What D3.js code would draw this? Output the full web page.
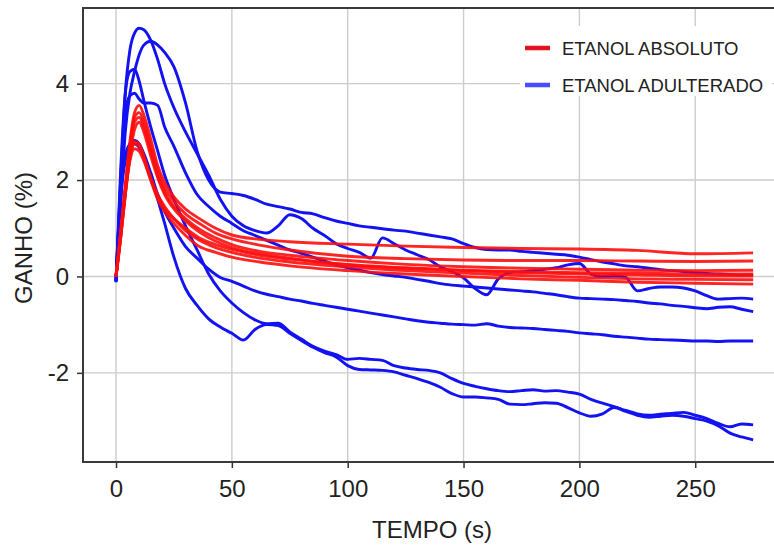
<!DOCTYPE html>
<html>
<head>
<meta charset="utf-8">
<script src="https://cdn.jsdelivr.net/npm/d3@7"></script>
<style>
  body { margin: 0; background: #fff; }
  text { font-family: "Liberation Sans", Arial, sans-serif; fill: #222; }
</style>
</head>
<body>
<script>
let width = 774, height = 546;

// time samples (s)
let tBlue = [0, 2, 4, 6, 8, 10, 12, 15, 18, 21, 25, 30, 35, 40, 45, 50, 55, 60, 65, 70,
  75, 80, 85, 90, 95, 100, 105, 110, 115, 120, 125, 130, 135, 140, 145, 150, 155, 160, 165, 170,
  175, 180, 185, 190, 195, 200, 205, 210, 215, 220, 225, 230, 235, 240, 245, 250, 255, 260, 265, 270, 275];
let tRed = [0, 2, 4, 6, 8, 10, 12, 15, 18, 21, 25, 30, 36, 43, 50, 62, 75, 100, 125, 150, 175, 200, 225, 250, 275];

// ETANOL ADULTERADO (%)
let blue1 = [-0.1, 2.0, 3.8, 4.7, 5.05, 5.15, 5.12, 4.9, 4.5, 4.0, 3.5, 3.0, 2.55, 2.1, 1.6, 1.25, 1.05, 0.95, 0.9, 1.05,
  1.28, 1.2, 1.0, 0.85, 0.68, 0.58, 0.5, 0.38, 0.8, 0.68, 0.55, 0.45, 0.35, 0.2, 0.1, -0.03, -0.25, -0.38, -0.05, 0.08,
  0.1, 0.12, 0.15, 0.18, 0.24, 0.27, 0.05, 0.0, 0.02, -0.02, -0.3, -0.25, -0.22, -0.22, -0.24, -0.3, -0.4, -0.47, -0.46, -0.45, -0.47];
let blue2 = [-0.05, 1.5, 3.0, 3.8, 4.25, 4.6, 4.8, 4.88, 4.8, 4.65, 4.35, 3.6, 2.6, 2.0, 1.75, 1.72, 1.68, 1.6, 1.5, 1.45,
  1.4, 1.33, 1.3, 1.22, 1.15, 1.1, 1.05, 1.02, 0.99, 0.96, 0.94, 0.9, 0.86, 0.82, 0.78, 0.68, 0.6, 0.56, 0.55, 0.55,
  0.52, 0.5, 0.48, 0.46, 0.44, 0.4, 0.35, 0.3, 0.26, 0.22, 0.2, 0.17, 0.14, 0.12, 0.1, 0.08, 0.06, 0.05, 0.04, 0.03, 0.03];
let blue3 = [-0.1, 1.9, 3.4, 3.75, 3.8, 3.68, 3.6, 3.6, 3.55, 3.1, 2.7, 2.15, 1.7, 1.45, 1.25, 1.1, 0.95, 0.85, 0.75, 0.65,
  0.55, 0.48, 0.4, 0.32, 0.24, 0.18, 0.13, 0.08, 0.04, 0.01, -0.02, -0.06, -0.1, -0.15, -0.18, -0.2, -0.22, -0.24, -0.26, -0.28,
  -0.3, -0.32, -0.35, -0.38, -0.42, -0.45, -0.46, -0.47, -0.48, -0.5, -0.52, -0.55, -0.57, -0.6, -0.62, -0.65, -0.67, -0.64, -0.63, -0.68, -0.73];
let blue4 = [-0.1, 1.7, 2.5, 2.75, 2.82, 2.75, 2.55, 2.15, 1.7, 1.35, 1.0, 0.62, 0.38, 0.15, -0.02, -0.1, -0.2, -0.3, -0.37, -0.42,
  -0.47, -0.51, -0.56, -0.6, -0.64, -0.68, -0.72, -0.76, -0.8, -0.84, -0.88, -0.92, -0.95, -0.97, -0.99, -1.0, -1.01, -0.98, -1.03, -1.06,
  -1.07, -1.08, -1.1, -1.12, -1.14, -1.17, -1.19, -1.21, -1.24, -1.26, -1.28, -1.3, -1.31, -1.32, -1.33, -1.34, -1.34, -1.35, -1.34, -1.34, -1.34];
let blue5 = [-0.1, 2.2, 3.8, 4.25, 4.3, 4.05, 3.65, 3.1, 2.6, 2.1, 1.6, 1.05, 0.55, 0.05, -0.3, -0.55, -0.75, -0.9, -0.98, -0.97,
  -1.15, -1.3, -1.45, -1.55, -1.62, -1.72, -1.7, -1.72, -1.74, -1.85, -1.9, -1.93, -1.95, -2.0, -2.12, -2.22, -2.28, -2.33, -2.37, -2.39,
  -2.37, -2.35, -2.38, -2.37, -2.4, -2.44, -2.55, -2.63, -2.7, -2.78, -2.85, -2.88, -2.86, -2.84, -2.82, -2.88, -2.95, -3.05, -3.12, -3.06, -3.08];
let blue6 = [-0.12, 1.6, 2.4, 2.65, 2.75, 2.68, 2.5, 2.1, 1.6, 1.1, 0.4, -0.25, -0.6, -0.88, -1.05, -1.18, -1.32, -1.1, -1.0, -1.02,
  -1.18, -1.33, -1.47, -1.58, -1.67, -1.85, -1.93, -1.94, -1.95, -1.98, -2.05, -2.12, -2.2, -2.3, -2.43, -2.5, -2.5, -2.52, -2.55, -2.65,
  -2.66, -2.64, -2.62, -2.63, -2.72, -2.83, -2.9, -2.85, -2.72, -2.8, -2.88, -2.92, -2.9, -2.88, -2.9, -2.95, -3.0, -3.1, -3.25, -3.33, -3.39];

// ETANOL ABSOLUTO (%)
let red1 = [0, 0.9, 1.9, 2.8, 3.4, 3.55, 3.35, 2.85, 2.3, 1.95, 1.65, 1.4, 1.2, 1.0, 0.86, 0.77, 0.72, 0.67, 0.63, 0.6, 0.58, 0.57, 0.54, 0.47, 0.49];
let red2 = [0, 0.8, 1.8, 2.7, 3.3, 3.4, 3.2, 2.7, 2.2, 1.85, 1.55, 1.3, 1.1, 0.9, 0.78, 0.65, 0.55, 0.42, 0.37, 0.34, 0.33, 0.33, 0.32, 0.31, 0.32];
let red3 = [0, 0.8, 1.7, 2.6, 3.2, 3.3, 3.1, 2.6, 2.1, 1.75, 1.45, 1.2, 0.98, 0.8, 0.66, 0.52, 0.44, 0.33, 0.25, 0.2, 0.17, 0.15, 0.13, 0.12, 0.13];
let red4 = [0, 0.8, 1.7, 2.5, 3.05, 3.2, 3.0, 2.5, 2.05, 1.7, 1.4, 1.15, 0.92, 0.73, 0.6, 0.47, 0.38, 0.24, 0.17, 0.12, 0.08, 0.05, 0.03, 0.01, 0.01];
let red5 = [0, 0.9, 1.8, 2.5, 2.8, 2.75, 2.5, 2.05, 1.7, 1.45, 1.2, 0.95, 0.75, 0.6, 0.5, 0.38, 0.3, 0.2, 0.12, 0.07, 0.02, -0.02, -0.05, -0.06, -0.07];
let red6 = [0, 0.9, 1.75, 2.45, 2.75, 2.7, 2.45, 2.0, 1.6, 1.35, 1.1, 0.85, 0.62, 0.5, 0.4, 0.3, 0.22, 0.12, 0.05, 0.0, -0.05, -0.08, -0.12, -0.14, -0.16];
let red7 = [0, 0.85, 1.7, 2.4, 2.65, 2.6, 2.4, 2.0, 1.65, 1.4, 1.2, 1.0, 0.8, 0.66, 0.56, 0.44, 0.36, 0.25, 0.18, 0.13, 0.1, 0.08, 0.07, 0.05, 0.05];

let blueSeries = [blue1, blue2, blue3, blue4, blue5, blue6];
let redSeries = [red1, red2, red3, red4, red5, red6, red7];

let xTicks = [0, 50, 100, 150, 200, 250];
let yTicks = [-2, 0, 2, 4];
let legendLabels = ['ETANOL ABSOLUTO', 'ETANOL ADULTERADO'];

let margin = {left: 83, right: 0, top: 8, bottom: 84};

let x = d3.scaleLinear().domain([-14.25, 284]).range([margin.left, width - margin.right]);
let y = d3.scaleLinear().domain([-3.85, 5.57]).range([height - margin.bottom, margin.top]);

let svg = d3.select('body').append('svg')
    .attr('width', width)
    .attr('height', height);

// grid
svg.append('g').selectAll('line.gx').data(xTicks).enter().append('line')
    .attr('x1', d => x(d)).attr('x2', d => x(d))
    .attr('y1', y.range()[0]).attr('y2', y.range()[1])
    .attr('stroke', '#cccccc').attr('stroke-width', 1.4);
svg.append('g').selectAll('line.gy').data(yTicks).enter().append('line')
    .attr('y1', d => y(d)).attr('y2', d => y(d))
    .attr('x1', x.range()[0]).attr('x2', x.range()[1])
    .attr('stroke', '#cccccc').attr('stroke-width', 1.4);

let line = d3.line().curve(d3.curveMonotoneX);

svg.append('g').selectAll('path').data(blueSeries).enter().append('path')
    .attr('d', s => line(s.map((v, i) => [x(tBlue[i]), y(v)])))
    .attr('fill', 'none')
    .attr('stroke', '#1212f2')
    .attr('stroke-width', 2.9)
    .attr('stroke-linejoin', 'round');

svg.append('g').selectAll('path').data(redSeries).enter().append('path')
    .attr('d', s => line(s.map((v, i) => [x(tRed[i]), y(v)])))
    .attr('fill', 'none')
    .attr('stroke', '#ff0d0d')
    .attr('stroke-width', 2.9)
    .attr('stroke-opacity', 0.9)
    .attr('stroke-linejoin', 'round');

// axes
let xAxis = d3.axisBottom(x).tickValues(xTicks).tickSize(6).tickPadding(12);
let yAxis = d3.axisLeft(y).tickValues(yTicks).tickSize(6).tickPadding(8)
    .tickFormat(d => d < 0 ? '-' + Math.abs(d) : d);

let gx = svg.append('g').attr('transform', 'translate(0,' + y.range()[0] + ')').call(xAxis);
let gy = svg.append('g').attr('transform', 'translate(' + x.range()[0] + ',0)').call(yAxis);
[gx, gy].forEach(g => {
    g.select('.domain').remove();
    g.selectAll('line').attr('stroke', '#333').attr('stroke-width', 1.5);
    g.selectAll('text').attr('font-size', 24).attr('fill', '#222')
        .style('font-family', '"Liberation Sans", Arial, sans-serif');
});

// frame
svg.append('path')
    .attr('d', 'M' + x.range()[1] + ',' + y.range()[1] + 'H' + x.range()[0] + 'V' + y.range()[0] + 'H' + x.range()[1])
    .attr('fill', 'none').attr('stroke', '#3a3a3a').attr('stroke-width', 2);

// axis titles
svg.append('text')
    .attr('x', 432).attr('y', 538)
    .attr('text-anchor', 'middle').attr('font-size', 24)
    .text('TEMPO (s)');
svg.append('text')
    .attr('transform', 'translate(32,238) rotate(-90)')
    .attr('text-anchor', 'middle').attr('font-size', 24)
    .text('GANHO (%)');

// legend
let legend = svg.append('g');
legend.append('rect')
    .attr('x', 520).attr('y', 26).attr('width', 252).attr('height', 70)
    .attr('fill', '#fff');
let legendColors = ['#e8101e', '#4b4bff'];
let items = legend.selectAll('g.item').data(legendLabels).enter().append('g')
    .attr('transform', (d, i) => 'translate(525,' + (48 + i * 37) + ')');
items.append('line')
    .attr('x1', 0).attr('x2', 25).attr('y1', 0).attr('y2', 0)
    .attr('stroke', (d, i) => legendColors[i]).attr('stroke-width', 4.5);
items.append('text')
    .attr('x', 37).attr('y', 7)
    .attr('font-size', 18.5)
    .text(d => d);
</script>
</body>
</html>
